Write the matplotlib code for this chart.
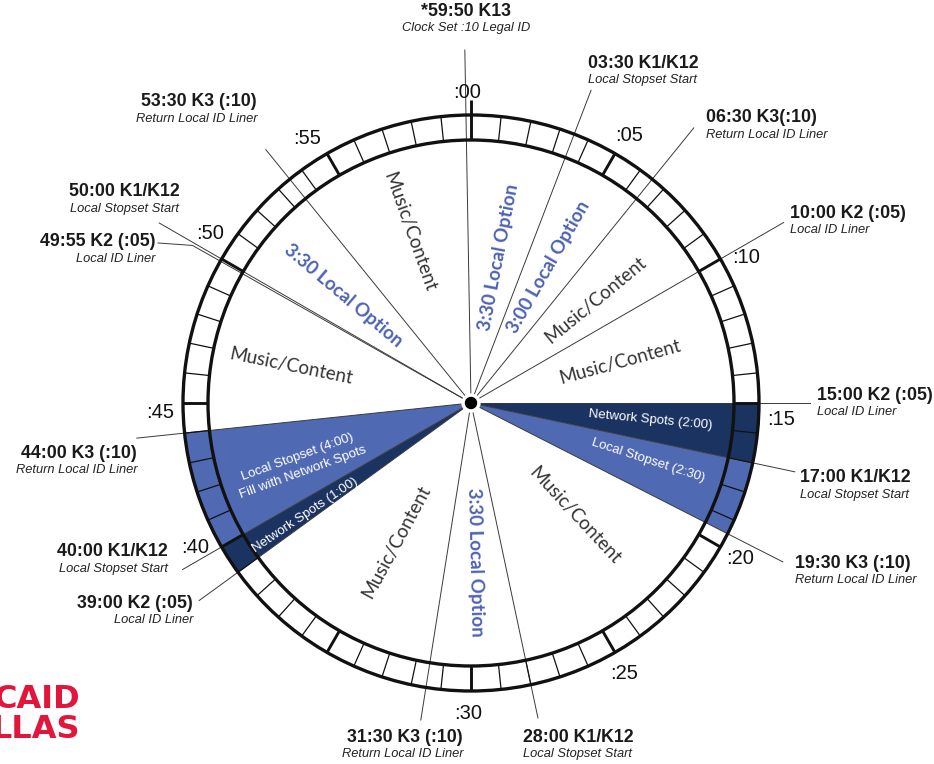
import numpy as np
import matplotlib.pyplot as plt
from matplotlib.patches import Wedge, Circle

# events on the hour clock (minutes past the hour)
EVENT_MIN = [59 + 50 / 60, 3.5, 6.5, 10, 15, 17, 19.5, 28, 31.5, 39, 40, 44,
             49 + 55 / 60, 50, 53.5]
EVENT_CODE = ['*59:50 K13', '03:30 K1/K12', '06:30 K3(:10)', '10:00 K2 (:05)',
              '15:00 K2 (:05)', '17:00 K1/K12', '19:30 K3 (:10)',
              '28:00 K1/K12', '31:30 K3 (:10)', '39:00 K2 (:05)',
              '40:00 K1/K12', '44:00 K3 (:10)', '49:55 K2 (:05)',
              '50:00 K1/K12', '53:30 K3 (:10)']
EVENT_NOTE = ['Clock Set :10 Legal ID', 'Local Stopset Start',
              'Return Local ID Liner', 'Local ID Liner', 'Local ID Liner',
              'Local Stopset Start', 'Return Local ID Liner',
              'Local Stopset Start', 'Return Local ID Liner', 'Local ID Liner',
              'Local Stopset Start', 'Return Local ID Liner', 'Local ID Liner',
              'Local Stopset Start', 'Return Local ID Liner']

# segments of the hour
SEG_START = [59 + 50 / 60, 3.5, 6.5, 10, 15, 17, 19.5, 28, 31.5, 39, 40, 44,
             50, 53.5]
SEG_END = [3.5, 6.5, 10, 15, 17, 19.5, 28, 31.5, 39, 40, 44, 49 + 55 / 60,
           53.5, 59 + 50 / 60]
SEG_LABEL = ['3:30 Local Option', '3:00 Local Option', 'Music/Content',
             'Music/Content', 'Network Spots (2:00)', 'Local Stopset (2:30)',
             'Music/Content', '3:30 Local Option', 'Music/Content',
             'Network Spots (1:00)',
             'Local Stopset (4:00)\nFill with Network Spots',
             'Music/Content', '3:30 Local Option', 'Music/Content']
SEG_KIND = ['option', 'option', 'music', 'music', 'network', 'stopset',
            'music', 'option', 'music', 'network', 'stopset', 'music',
            'option', 'music']

MINUTE_LABELS = [':00', ':05', ':10', ':15', ':20', ':25', ':30', ':40',
                 ':45', ':50', ':55']
MINUTE_POS = [0, 5, 10, 15, 20, 25, 30, 40, 45, 50, 55]

# ---- layout (pixels) ----
CX, CY = 471, 403
R_OUT, R_IN = 288, 263
NAVY = '#1b3361'
MID_BLUE = '#5069b3'
TEXT_BLUE = '#4d62b4'

LEADER_LEN = [353, 335, 354, 361, 339, 331, 350, 322, 321, 336, 333, 336,
              320, 360, 326]
# bold line anchor (x, y, ha); note is drawn 17 px below
LABEL_POS = [(466, 11, 'center'), (588, 63, 'left'), (706, 118, 'left'),
             (790, 213, 'left'), (817, 395, 'left'), (800, 478, 'left'),
             (795, 563, 'left'), (523, 737, 'left'), (463, 737, 'right'),
             (193, 603, 'right'), (168, 552, 'right'), (137, 453, 'right'),
             (155, 242, 'right'), (124, 192, 'center'), (257, 102, 'right')]
# text position inside each segment: (minute, radius, reads outward)
SEG_TEXT_POS = [(1.82, 148, True), (4.95, 157, True), (8.42, 162, True),
                (12.43, 155, True), (15.9, 180, True), (17.98, 186, True),
                (22.85, 153, True), (29.77, 159, True), (34.72, 158, False),
                (39.33, 200, False), (41.67, 182, False), (46.93, 184, False),
                (51.7, 167, False), (56.73, 182, False)]
MINUTE_NUDGE = [-0.12, 0.1, 0.35, 0.52, 0, 0.1, 0.1, 0.4, -0.3, 0.5, -0.3]


def pol(minute, radius):
    """screen position of a minute mark at a given radius"""
    ang = np.deg2rad(minute * 6)
    return CX + radius * np.sin(ang), CY - radius * np.cos(ang)


fig = plt.figure(figsize=(9.34, 7.64), dpi=100)
ax = fig.add_axes([0, 0, 1, 1])
ax.set_xlim(0, 934)
ax.set_ylim(764, 0)
ax.axis('off')

# coloured wedges
fills = {'network': NAVY, 'stopset': MID_BLUE}
for start, end, kind in zip(SEG_START, SEG_END, SEG_KIND):
    if kind in fills:
        ax.add_patch(Wedge((CX, CY), R_OUT, start * 6 - 90, end * 6 - 90,
                           facecolor=fills[kind], edgecolor='none', zorder=1))

# leader lines from the centre out to each label
for i, minute in enumerate(EVENT_MIN):
    x_end, y_end = pol(minute, LEADER_LEN[i])
    xs, ys = [CX, x_end], [CY, y_end]
    if EVENT_CODE[i].startswith('49:55'):
        xs.append(LABEL_POS[i][0] + 3)
        ys.append(LABEL_POS[i][1] + 1)
    ax.plot(xs, ys, color='#3a3a3a', lw=0.7, zorder=2)

# ring of minute cells
ax.add_patch(Circle((CX, CY), R_OUT, fill=False, lw=2.4, color='#111111',
                    zorder=4))
ax.add_patch(Circle((CX, CY), R_IN, fill=False, lw=2.4, color='#111111',
                    zorder=4))
for m in range(60):
    x1, y1 = pol(m, R_IN)
    x2, y2 = pol(m, R_OUT + (15 if m == 0 else 0))
    ax.plot([x1, x2], [y1, y2], color='#111111',
            lw=2.1 if m % 5 == 0 else 0.9, zorder=3, solid_capstyle='butt')

# minute numbers
for lab, m, nudge in zip(MINUTE_LABELS, MINUTE_POS, MINUTE_NUDGE):
    x, y = pol(m + nudge, 311)
    ax.text(x, y, lab, ha='center', va='center', fontsize=14.5,
            family='Liberation Sans', color='#111111', zorder=5)

# segment names
for lab, kind, (m, r, outward) in zip(SEG_LABEL, SEG_KIND, SEG_TEXT_POS):
    x, y = pol(m, r)
    rot = (90 if outward else 270) - m * 6
    rot = (rot + 180) % 360 - 180
    if kind == 'music':
        style = dict(family='Lato', fontsize=13.5, color='#333333')
    elif kind == 'option':
        style = dict(family='Lato', fontsize=13.5, color=TEXT_BLUE,
                     weight='bold')
    else:
        style = dict(family='Liberation Sans', fontsize=9.5, color='white',
                     linespacing=1.45)
    ax.text(x, y, lab, rotation=rot, rotation_mode='anchor', ha='center',
            va='center', multialignment='center', zorder=5, **style)

# event labels
for code, note, (x, y, ha) in zip(EVENT_CODE, EVENT_NOTE, LABEL_POS):
    ax.text(x, y, code, ha=ha, va='center', fontsize=12.8, weight='bold',
            family='Liberation Sans', color='#1a1a1a', zorder=5)
    ax.text(x, y + 17, note, ha=ha, va='center', fontsize=9.3,
            style='italic', family='Liberation Sans', color='#222222',
            zorder=5)

# centre hub
ax.add_patch(Circle((CX, CY), 9, color='white', zorder=6))
ax.add_patch(Circle((CX, CY), 5.5, color='black', zorder=7))

# cropped logo in the corner
ax.text(80, 699, 'CAID', ha='right', va='center', fontsize=23,
        weight='heavy', family='DejaVu Sans', color='#e2163b')
ax.text(80, 729, 'LLAS', ha='right', va='center', fontsize=23,
        weight='heavy', family='DejaVu Sans', color='#e2163b')

fig.savefig('out.png', dpi=100)
